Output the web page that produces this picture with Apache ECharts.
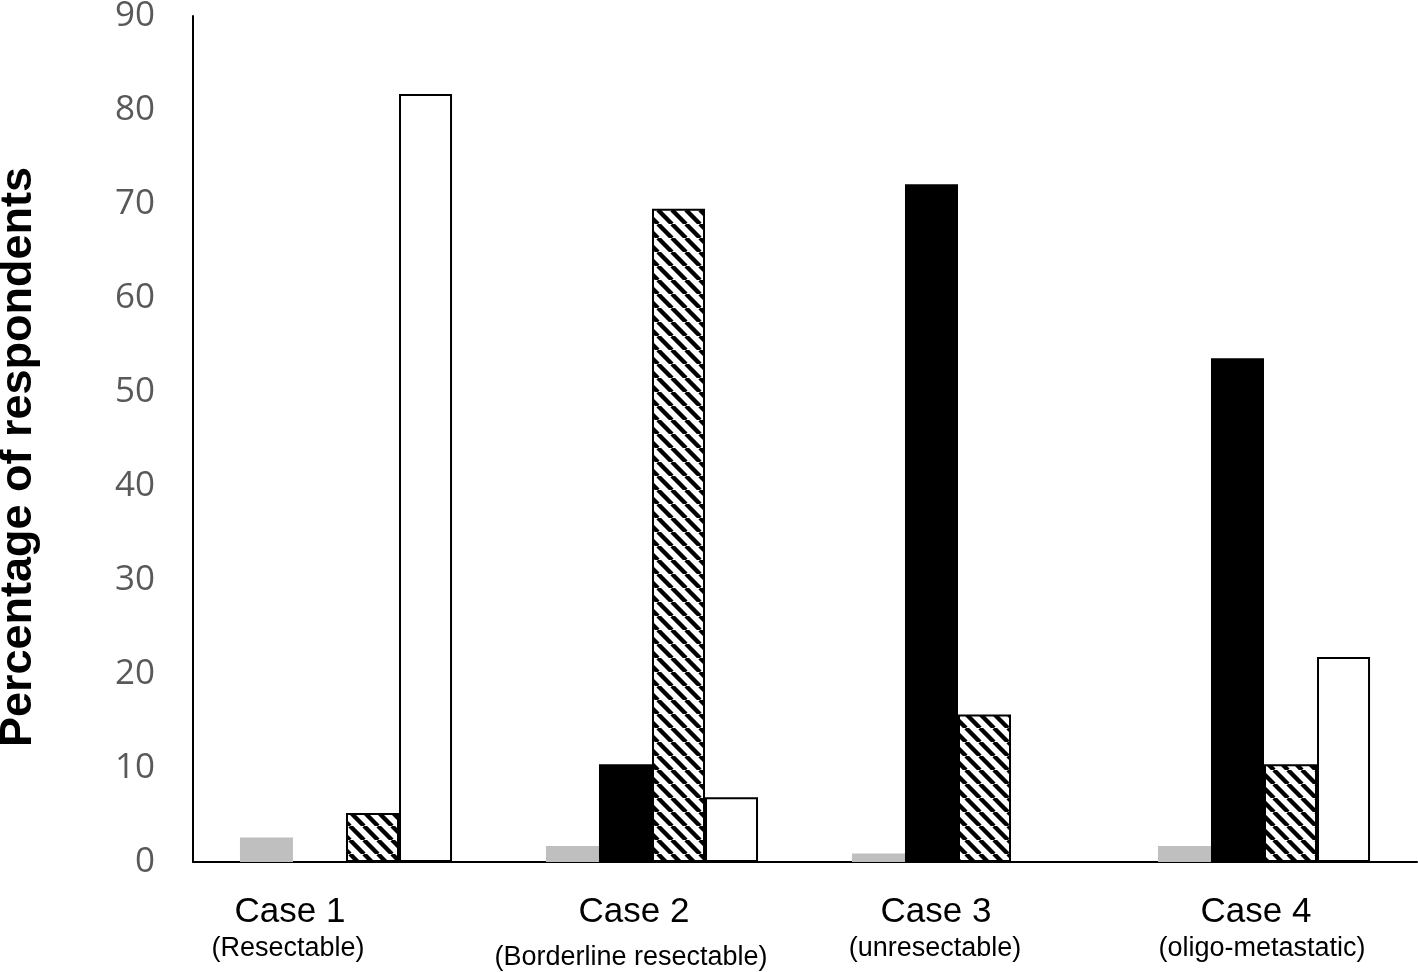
<!DOCTYPE html>
<html>
<head>
<meta charset="utf-8">
<style>
  html, body { margin: 0; padding: 0; background: #ffffff; }
  #chart { width: 1418px; height: 972px; }
</style>
<script src="https://cdn.jsdelivr.net/npm/echarts@6/dist/echarts.min.js"></script>
</head>
<body>
<div id="chart"></div>
<script>
// ---- data ----
const categories = ['Case 1', 'Case 2', 'Case 3', 'Case 4'];
const subtitles = ['(Resectable)', '(Borderline resectable)', '(unresectable)', '(oligo-metastatic)'];
const grayValues = [2.6, 1.7, 0.9, 1.7];
const blackValues = [0, 10.4, 72.1, 53.6];
const hatchedValues = [5.2, 69.5, 15.7, 10.4];
const whiteValues = [81.7, 6.9, 0, 21.8];
const yTicks = [0, 10, 20, 30, 40, 50, 60, 70, 80, 90];

// ---- label offsets (px shift of text centre, left is negative) ----
const mainShift = [-56, -18, -22, -8];
const subShift = [-58, -21, -23, -2];
const subLineHeight = [34, 52, 34, 34];

// ---- hatch pattern ----
function makeHatch() {
  const c = document.createElement('canvas');
  const s = 14;
  c.width = s; c.height = s;
  const ctx = c.getContext('2d');
  ctx.fillStyle = '#ffffff';
  ctx.fillRect(0, 0, s, s);
  ctx.strokeStyle = '#000000';
  ctx.lineWidth = 4.4;
  for (const x0 of [-s, 0, s]) {
    ctx.beginPath();
    ctx.moveTo(x0, 0);
    ctx.lineTo(x0 + s, s);
    ctx.stroke();
  }
  return c;
}
const hatch = makeHatch();

function pad(shift) {
  return shift < 0 ? [0, -2 * shift, 0, 0] : [0, 0, 0, 2 * shift];
}
const rich = {};
categories.forEach((c, i) => {
  rich['m' + i] = {
    fontFamily: 'Liberation Sans, Arial, sans-serif',
    fontSize: 35, color: '#000000', lineHeight: 40,
    padding: pad(mainShift[i])
  };
  rich['s' + i] = {
    fontFamily: 'Liberation Sans, Arial, sans-serif',
    fontSize: 27, color: '#000000', lineHeight: subLineHeight[i],
    padding: pad(subShift[i])
  };
});

const chart = echarts.init(document.getElementById('chart'));
const option = {
  animation: false,
  backgroundColor: '#ffffff',
  grid: { left: 193, right: 1, top: 16, bottom: 110, containLabel: false, outerBoundsMode: 'none' },
  xAxis: {
    type: 'category',
    data: categories,
    axisLine: { show: true, lineStyle: { color: '#000000', width: 2 } },
    axisTick: { show: false },
    splitLine: { show: false },
    axisLabel: {
      interval: 0,
      margin: 30,
      verticalAlign: 'top',
      formatter: function (value, idx) {
        const i = categories.indexOf(value);
        return '{m' + i + '|' + categories[i] + '}\n{s' + i + '|' + subtitles[i] + '}';
      },
      rich: rich
    }
  },
  yAxis: {
    type: 'value',
    min: 0,
    max: 90,
    interval: 10,
    name: 'Percentage of respondents',
    nameLocation: 'middle',
    nameRotate: 90,
    nameGap: 152,
    nameTextStyle: {
      fontFamily: 'Liberation Sans, Arial, sans-serif',
      fontWeight: 'bold',
      fontSize: 45,
      color: '#000000',
      padding: [0, 36, 0, 0]
    },
    axisLine: { show: true, lineStyle: { color: '#000000', width: 2 } },
    axisTick: { show: false },
    splitLine: { show: false },
    axisLabel: {
      margin: 38,
      fontFamily: 'Open Sans, Noto Sans, sans-serif',
      fontSize: 35,
      color: '#595959',
      formatter: function (v) { return yTicks.includes(v) ? String(v) : ''; }
    }
  },
  series: [
    {
      name: 'Gray', type: 'bar', data: grayValues,
      barGap: '0%', barCategoryGap: '30.7%',
      itemStyle: { color: '#bfbfbf' }
    },
    {
      name: 'Black', type: 'bar', data: blackValues,
      barGap: '0%', barCategoryGap: '30.7%',
      itemStyle: { color: '#000000' }
    },
    {
      name: 'Hatched', type: 'bar', data: hatchedValues,
      barGap: '0%', barCategoryGap: '30.7%',
      itemStyle: { color: { image: hatch, repeat: 'repeat' }, borderColor: '#000000', borderWidth: 2 }
    },
    {
      name: 'White', type: 'bar', data: whiteValues,
      barGap: '0%', barCategoryGap: '30.7%',
      itemStyle: { color: '#ffffff', borderColor: '#000000', borderWidth: 2 }
    }
  ]
};
chart.setOption(option);
</script>
</body>
</html>
